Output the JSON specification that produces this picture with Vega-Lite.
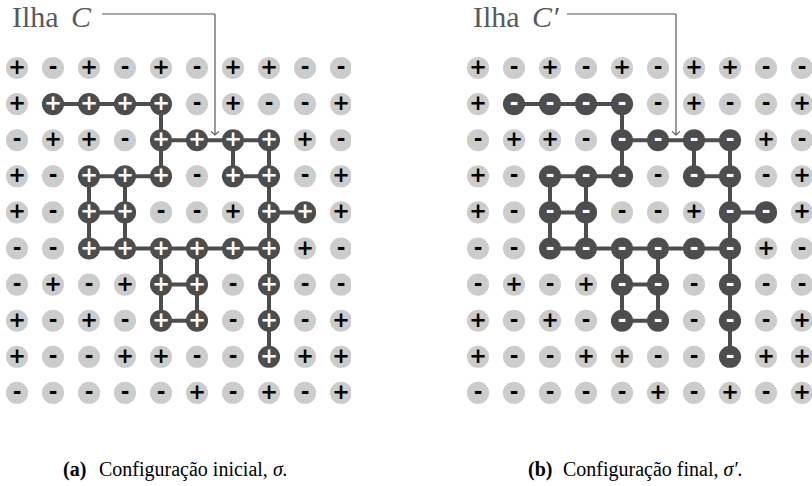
{
  "$schema": "https://vega.github.io/schema/vega-lite/v6.json",
  "padding": 0,
  "spacing": 110,
  "bounds": "flush",
  "background": "white",
  "config": {"view": {"stroke": null}},
  "datasets": {
    "cells": [
      {"c":0,"r":0,"a":"+","b":"+","d":0},{"c":1,"r":0,"a":"-","b":"-","d":0},{"c":2,"r":0,"a":"+","b":"+","d":0},{"c":3,"r":0,"a":"-","b":"-","d":0},{"c":4,"r":0,"a":"+","b":"+","d":0},{"c":5,"r":0,"a":"-","b":"-","d":0},{"c":6,"r":0,"a":"+","b":"+","d":0},{"c":7,"r":0,"a":"+","b":"+","d":0},{"c":8,"r":0,"a":"-","b":"-","d":0},{"c":9,"r":0,"a":"-","b":"-","d":0},
      {"c":0,"r":1,"a":"+","b":"+","d":0},{"c":1,"r":1,"a":"+","b":"-","d":1},{"c":2,"r":1,"a":"+","b":"-","d":1},{"c":3,"r":1,"a":"+","b":"-","d":1},{"c":4,"r":1,"a":"+","b":"-","d":1},{"c":5,"r":1,"a":"-","b":"-","d":0},{"c":6,"r":1,"a":"+","b":"+","d":0},{"c":7,"r":1,"a":"-","b":"-","d":0},{"c":8,"r":1,"a":"-","b":"-","d":0},{"c":9,"r":1,"a":"+","b":"+","d":0},
      {"c":0,"r":2,"a":"-","b":"-","d":0},{"c":1,"r":2,"a":"+","b":"+","d":0},{"c":2,"r":2,"a":"+","b":"+","d":0},{"c":3,"r":2,"a":"-","b":"-","d":0},{"c":4,"r":2,"a":"+","b":"-","d":1},{"c":5,"r":2,"a":"+","b":"-","d":1},{"c":6,"r":2,"a":"+","b":"-","d":1},{"c":7,"r":2,"a":"+","b":"-","d":1},{"c":8,"r":2,"a":"+","b":"+","d":0},{"c":9,"r":2,"a":"-","b":"-","d":0},
      {"c":0,"r":3,"a":"+","b":"+","d":0},{"c":1,"r":3,"a":"-","b":"-","d":0},{"c":2,"r":3,"a":"+","b":"-","d":1},{"c":3,"r":3,"a":"+","b":"-","d":1},{"c":4,"r":3,"a":"+","b":"-","d":1},{"c":5,"r":3,"a":"-","b":"-","d":0},{"c":6,"r":3,"a":"+","b":"-","d":1},{"c":7,"r":3,"a":"+","b":"-","d":1},{"c":8,"r":3,"a":"-","b":"-","d":0},{"c":9,"r":3,"a":"+","b":"+","d":0},
      {"c":0,"r":4,"a":"+","b":"+","d":0},{"c":1,"r":4,"a":"-","b":"-","d":0},{"c":2,"r":4,"a":"+","b":"-","d":1},{"c":3,"r":4,"a":"+","b":"-","d":1},{"c":4,"r":4,"a":"-","b":"-","d":0},{"c":5,"r":4,"a":"-","b":"-","d":0},{"c":6,"r":4,"a":"+","b":"+","d":0},{"c":7,"r":4,"a":"+","b":"-","d":1},{"c":8,"r":4,"a":"+","b":"-","d":1},{"c":9,"r":4,"a":"+","b":"+","d":0},
      {"c":0,"r":5,"a":"-","b":"-","d":0},{"c":1,"r":5,"a":"-","b":"-","d":0},{"c":2,"r":5,"a":"+","b":"-","d":1},{"c":3,"r":5,"a":"+","b":"-","d":1},{"c":4,"r":5,"a":"+","b":"-","d":1},{"c":5,"r":5,"a":"+","b":"-","d":1},{"c":6,"r":5,"a":"+","b":"-","d":1},{"c":7,"r":5,"a":"+","b":"-","d":1},{"c":8,"r":5,"a":"+","b":"+","d":0},{"c":9,"r":5,"a":"-","b":"-","d":0},
      {"c":0,"r":6,"a":"-","b":"-","d":0},{"c":1,"r":6,"a":"+","b":"+","d":0},{"c":2,"r":6,"a":"-","b":"-","d":0},{"c":3,"r":6,"a":"+","b":"+","d":0},{"c":4,"r":6,"a":"+","b":"-","d":1},{"c":5,"r":6,"a":"+","b":"-","d":1},{"c":6,"r":6,"a":"-","b":"-","d":0},{"c":7,"r":6,"a":"+","b":"-","d":1},{"c":8,"r":6,"a":"-","b":"-","d":0},{"c":9,"r":6,"a":"-","b":"-","d":0},
      {"c":0,"r":7,"a":"+","b":"+","d":0},{"c":1,"r":7,"a":"-","b":"-","d":0},{"c":2,"r":7,"a":"+","b":"+","d":0},{"c":3,"r":7,"a":"-","b":"-","d":0},{"c":4,"r":7,"a":"+","b":"-","d":1},{"c":5,"r":7,"a":"+","b":"-","d":1},{"c":6,"r":7,"a":"-","b":"-","d":0},{"c":7,"r":7,"a":"+","b":"-","d":1},{"c":8,"r":7,"a":"-","b":"-","d":0},{"c":9,"r":7,"a":"+","b":"+","d":0},
      {"c":0,"r":8,"a":"+","b":"+","d":0},{"c":1,"r":8,"a":"-","b":"-","d":0},{"c":2,"r":8,"a":"-","b":"-","d":0},{"c":3,"r":8,"a":"+","b":"+","d":0},{"c":4,"r":8,"a":"+","b":"+","d":0},{"c":5,"r":8,"a":"-","b":"-","d":0},{"c":6,"r":8,"a":"-","b":"-","d":0},{"c":7,"r":8,"a":"+","b":"-","d":1},{"c":8,"r":8,"a":"+","b":"+","d":0},{"c":9,"r":8,"a":"+","b":"+","d":0},
      {"c":0,"r":9,"a":"-","b":"-","d":0},{"c":1,"r":9,"a":"-","b":"-","d":0},{"c":2,"r":9,"a":"-","b":"-","d":0},{"c":3,"r":9,"a":"-","b":"-","d":0},{"c":4,"r":9,"a":"-","b":"-","d":0},{"c":5,"r":9,"a":"+","b":"+","d":0},{"c":6,"r":9,"a":"-","b":"-","d":0},{"c":7,"r":9,"a":"+","b":"+","d":0},{"c":8,"r":9,"a":"-","b":"-","d":0},{"c":9,"r":9,"a":"+","b":"+","d":0}
    ],
    "edges": [
      {"c1":1,"r1":1,"c2":2,"r2":1},{"c1":2,"r1":1,"c2":3,"r2":1},{"c1":3,"r1":1,"c2":4,"r2":1},
      {"c1":4,"r1":2,"c2":5,"r2":2},{"c1":5,"r1":2,"c2":6,"r2":2},{"c1":6,"r1":2,"c2":7,"r2":2},
      {"c1":2,"r1":3,"c2":3,"r2":3},{"c1":3,"r1":3,"c2":4,"r2":3},{"c1":6,"r1":3,"c2":7,"r2":3},
      {"c1":2,"r1":4,"c2":3,"r2":4},{"c1":7,"r1":4,"c2":8,"r2":4},
      {"c1":2,"r1":5,"c2":3,"r2":5},{"c1":3,"r1":5,"c2":4,"r2":5},{"c1":4,"r1":5,"c2":5,"r2":5},{"c1":5,"r1":5,"c2":6,"r2":5},{"c1":6,"r1":5,"c2":7,"r2":5},
      {"c1":4,"r1":6,"c2":5,"r2":6},{"c1":4,"r1":7,"c2":5,"r2":7},
      {"c1":4,"r1":1,"c2":4,"r2":2},
      {"c1":4,"r1":2,"c2":4,"r2":3},{"c1":6,"r1":2,"c2":6,"r2":3},{"c1":7,"r1":2,"c2":7,"r2":3},
      {"c1":2,"r1":3,"c2":2,"r2":4},{"c1":3,"r1":3,"c2":3,"r2":4},{"c1":7,"r1":3,"c2":7,"r2":4},
      {"c1":2,"r1":4,"c2":2,"r2":5},{"c1":3,"r1":4,"c2":3,"r2":5},{"c1":7,"r1":4,"c2":7,"r2":5},
      {"c1":4,"r1":5,"c2":4,"r2":6},{"c1":5,"r1":5,"c2":5,"r2":6},{"c1":7,"r1":5,"c2":7,"r2":6},
      {"c1":4,"r1":6,"c2":4,"r2":7},{"c1":5,"r1":6,"c2":5,"r2":7},{"c1":7,"r1":6,"c2":7,"r2":7},
      {"c1":7,"r1":7,"c2":7,"r2":8}
    ],
    "leader": [
      {"p":"a","x1":2.361,"y1":-1.496,"x2":5.5,"y2":-1.496},
      {"p":"a","x1":5.5,"y1":-1.496,"x2":5.5,"y2":1.85},
      {"p":"b","x1":2.472,"y1":-1.496,"x2":5.5,"y2":-1.496},
      {"p":"b","x1":5.5,"y1":-1.496,"x2":5.5,"y2":1.85}
    ],
    "tip": [
      {"p":"a","x":5.5,"y":1.856},
      {"p":"b","x":5.5,"y":1.856}
    ],
    "ann": [
      {"p":"a","k":"ilha","x":-0.139,"y":-1.122,"t":"Ilha"},
      {"p":"a","k":"var","x":1.5,"y":-1.122,"t":"C"},
      {"p":"a","k":"tag","x":1.278,"y":11.302,"t":"(a)"},
      {"p":"a","k":"cap","x":2.278,"y":11.302,"t":"Configuração inicial,"},
      {"p":"a","k":"sym","x":7.108,"y":11.302,"t":"σ."},
      {"p":"b","k":"ilha","x":-0.139,"y":-1.122,"t":"Ilha"},
      {"p":"b","k":"var","x":1.5,"y":-1.122,"t":"C′"},
      {"p":"b","k":"tag","x":1.389,"y":11.302,"t":"(b)"},
      {"p":"b","k":"cap","x":2.361,"y":11.302,"t":"Configuração final,"},
      {"p":"b","k":"sym","x":6.819,"y":11.302,"t":"σ′."}
    ]
  },
  "hconcat": [
    {
      "width": 351,
      "height": 486,
      "layer": [
        {
          "data": {"name": "edges"},
          "mark": {"type": "rule", "color": "#4d4d4d", "strokeWidth": 4},
          "encoding": {
            "x": {"field": "c1", "type": "quantitative", "scale": {"domain": [-0.4722, 9.2778], "nice": false, "zero": false}, "axis": null},
            "y": {"field": "r1", "type": "quantitative", "scale": {"domain": [-1.8837, 11.5789], "nice": false, "zero": false, "reverse": true}, "axis": null},
            "x2": {"field": "c2"},
            "y2": {"field": "r2"}
          }
        },
        {
          "data": {"name": "cells"},
          "mark": {"type": "point", "shape": "circle", "filled": true, "size": 490, "opacity": 1, "strokeWidth": 0, "clip": true},
          "encoding": {
            "x": {"field": "c", "type": "quantitative"},
            "y": {"field": "r", "type": "quantitative"},
            "color": {"condition": {"test": "datum.d == 1", "value": "#4d4d4d"}, "value": "#cccccc"}
          }
        },
        {
          "data": {"name": "cells"},
          "mark": {"type": "text", "font": "DejaVu Sans", "fontWeight": "bold", "fontSize": 21, "baseline": "middle", "align": "center"},
          "encoding": {
            "x": {"field": "c", "type": "quantitative"},
            "y": {"field": "r", "type": "quantitative"},
            "text": {"field": "a"},
            "color": {"condition": {"test": "datum.d == 1", "value": "#ffffff"}, "value": "#000000"}
          }
        },
        {
          "data": {"name": "leader"},
          "transform": [{"filter": "datum.p == 'a'"}],
          "mark": {"type": "rule", "color": "#555555", "strokeWidth": 1.2},
          "encoding": {
            "x": {"field": "x1", "type": "quantitative"},
            "y": {"field": "y1", "type": "quantitative"},
            "x2": {"field": "x2"},
            "y2": {"field": "y2"}
          }
        },
        {
          "data": {"name": "tip"},
          "transform": [{"filter": "datum.p == 'a'"}],
          "mark": {"type": "point", "shape": "M-1,-0.9L0,0L1,-0.9", "filled": false, "size": 64, "stroke": "#555555", "strokeWidth": 1.1, "opacity": 1},
          "encoding": {
            "x": {"field": "x", "type": "quantitative"},
            "y": {"field": "y", "type": "quantitative"}
          }
        },
        {
          "data": {"name": "ann"},
          "transform": [{"filter": "datum.p == 'a' && datum.k == 'ilha'"}],
          "mark": {"type": "text", "font": "Liberation Serif", "fontSize": 30, "align": "left", "baseline": "alphabetic", "color": "#595959"},
          "encoding": {
            "x": {"field": "x", "type": "quantitative"},
            "y": {"field": "y", "type": "quantitative"},
            "text": {"field": "t"}
          }
        },
        {
          "data": {"name": "ann"},
          "transform": [{"filter": "datum.p == 'a' && datum.k == 'var'"}],
          "mark": {"type": "text", "font": "Liberation Serif", "fontStyle": "italic", "fontSize": 30, "align": "left", "baseline": "alphabetic", "color": "#595959"},
          "encoding": {
            "x": {"field": "x", "type": "quantitative"},
            "y": {"field": "y", "type": "quantitative"},
            "text": {"field": "t"}
          }
        },
        {
          "data": {"name": "ann"},
          "transform": [{"filter": "datum.p == 'a' && datum.k == 'tag'"}],
          "mark": {"type": "text", "font": "Liberation Serif", "fontWeight": "bold", "fontSize": 20, "align": "left", "baseline": "alphabetic", "color": "#000000"},
          "encoding": {
            "x": {"field": "x", "type": "quantitative"},
            "y": {"field": "y", "type": "quantitative"},
            "text": {"field": "t"}
          }
        },
        {
          "data": {"name": "ann"},
          "transform": [{"filter": "datum.p == 'a' && datum.k == 'cap'"}],
          "mark": {"type": "text", "font": "Liberation Serif", "fontSize": 20, "align": "left", "baseline": "alphabetic", "color": "#000000"},
          "encoding": {
            "x": {"field": "x", "type": "quantitative"},
            "y": {"field": "y", "type": "quantitative"},
            "text": {"field": "t"}
          }
        },
        {
          "data": {"name": "ann"},
          "transform": [{"filter": "datum.p == 'a' && datum.k == 'sym'"}],
          "mark": {"type": "text", "font": "Liberation Serif", "fontStyle": "italic", "fontSize": 20, "align": "left", "baseline": "alphabetic", "color": "#000000"},
          "encoding": {
            "x": {"field": "x", "type": "quantitative"},
            "y": {"field": "y", "type": "quantitative"},
            "text": {"field": "t"}
          }
        }
      ]
    },
    {
      "width": 351,
      "height": 486,
      "layer": [
        {
          "data": {"name": "edges"},
          "mark": {"type": "rule", "color": "#4d4d4d", "strokeWidth": 4},
          "encoding": {
            "x": {"field": "c1", "type": "quantitative", "scale": {"domain": [-0.4722, 9.2778], "nice": false, "zero": false}, "axis": null},
            "y": {"field": "r1", "type": "quantitative", "scale": {"domain": [-1.8837, 11.5789], "nice": false, "zero": false, "reverse": true}, "axis": null},
            "x2": {"field": "c2"},
            "y2": {"field": "r2"}
          }
        },
        {
          "data": {"name": "cells"},
          "mark": {"type": "point", "shape": "circle", "filled": true, "size": 490, "opacity": 1, "strokeWidth": 0, "clip": true},
          "encoding": {
            "x": {"field": "c", "type": "quantitative"},
            "y": {"field": "r", "type": "quantitative"},
            "color": {"condition": {"test": "datum.d == 1", "value": "#4d4d4d"}, "value": "#cccccc"}
          }
        },
        {
          "data": {"name": "cells"},
          "mark": {"type": "text", "font": "DejaVu Sans", "fontWeight": "bold", "fontSize": 21, "baseline": "middle", "align": "center"},
          "encoding": {
            "x": {"field": "c", "type": "quantitative"},
            "y": {"field": "r", "type": "quantitative"},
            "text": {"field": "b"},
            "color": {"condition": {"test": "datum.d == 1", "value": "#ffffff"}, "value": "#000000"}
          }
        },
        {
          "data": {"name": "leader"},
          "transform": [{"filter": "datum.p == 'b'"}],
          "mark": {"type": "rule", "color": "#555555", "strokeWidth": 1.2},
          "encoding": {
            "x": {"field": "x1", "type": "quantitative"},
            "y": {"field": "y1", "type": "quantitative"},
            "x2": {"field": "x2"},
            "y2": {"field": "y2"}
          }
        },
        {
          "data": {"name": "tip"},
          "transform": [{"filter": "datum.p == 'b'"}],
          "mark": {"type": "point", "shape": "M-1,-0.9L0,0L1,-0.9", "filled": false, "size": 64, "stroke": "#555555", "strokeWidth": 1.1, "opacity": 1},
          "encoding": {
            "x": {"field": "x", "type": "quantitative"},
            "y": {"field": "y", "type": "quantitative"}
          }
        },
        {
          "data": {"name": "ann"},
          "transform": [{"filter": "datum.p == 'b' && datum.k == 'ilha'"}],
          "mark": {"type": "text", "font": "Liberation Serif", "fontSize": 30, "align": "left", "baseline": "alphabetic", "color": "#595959"},
          "encoding": {
            "x": {"field": "x", "type": "quantitative"},
            "y": {"field": "y", "type": "quantitative"},
            "text": {"field": "t"}
          }
        },
        {
          "data": {"name": "ann"},
          "transform": [{"filter": "datum.p == 'b' && datum.k == 'var'"}],
          "mark": {"type": "text", "font": "Liberation Serif", "fontStyle": "italic", "fontSize": 30, "align": "left", "baseline": "alphabetic", "color": "#595959"},
          "encoding": {
            "x": {"field": "x", "type": "quantitative"},
            "y": {"field": "y", "type": "quantitative"},
            "text": {"field": "t"}
          }
        },
        {
          "data": {"name": "ann"},
          "transform": [{"filter": "datum.p == 'b' && datum.k == 'tag'"}],
          "mark": {"type": "text", "font": "Liberation Serif", "fontWeight": "bold", "fontSize": 20, "align": "left", "baseline": "alphabetic", "color": "#000000"},
          "encoding": {
            "x": {"field": "x", "type": "quantitative"},
            "y": {"field": "y", "type": "quantitative"},
            "text": {"field": "t"}
          }
        },
        {
          "data": {"name": "ann"},
          "transform": [{"filter": "datum.p == 'b' && datum.k == 'cap'"}],
          "mark": {"type": "text", "font": "Liberation Serif", "fontSize": 20, "align": "left", "baseline": "alphabetic", "color": "#000000"},
          "encoding": {
            "x": {"field": "x", "type": "quantitative"},
            "y": {"field": "y", "type": "quantitative"},
            "text": {"field": "t"}
          }
        },
        {
          "data": {"name": "ann"},
          "transform": [{"filter": "datum.p == 'b' && datum.k == 'sym'"}],
          "mark": {"type": "text", "font": "Liberation Serif", "fontStyle": "italic", "fontSize": 20, "align": "left", "baseline": "alphabetic", "color": "#000000"},
          "encoding": {
            "x": {"field": "x", "type": "quantitative"},
            "y": {"field": "y", "type": "quantitative"},
            "text": {"field": "t"}
          }
        }
      ]
    }
  ]
}
